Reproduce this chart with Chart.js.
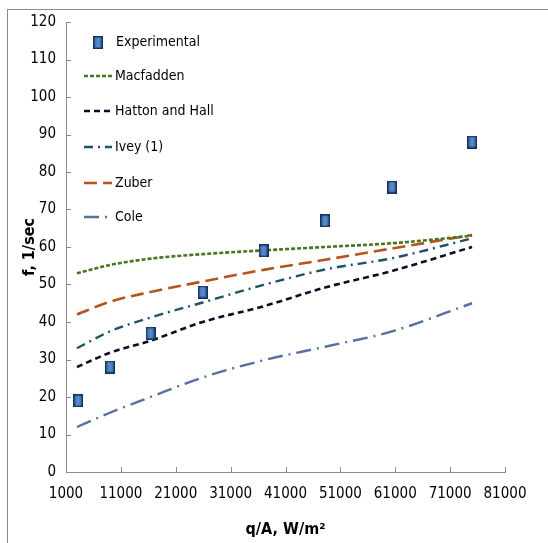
<!DOCTYPE html>
<html>
<head>
<meta charset="utf-8">
<script src="https://cdn.jsdelivr.net/npm/chart.js@4.4.1/dist/chart.umd.min.js"></script>
<style>
    html, body { margin: 0; padding: 0; background: #fff; }
    #wrap { position: relative; width: 548px; height: 543px; overflow: hidden; }
    #frame { position: absolute; left: 7px; top: 9px; width: 600px; height: 600px;
             border-left: 1px solid #8c8c8c; border-top: 1px solid #8c8c8c; }
    canvas { position: absolute; left: 0; top: 0; }
</style>
</head>
<body>
<div id="wrap">
    <div id="frame"></div>
    <canvas id="chart" width="548" height="543"></canvas>
</div>
<script>
// Data
const qA = [3200, 9000, 16400, 25900, 37000, 48200, 60400, 75000];
const experimental = [19, 28, 37, 48, 59, 67, 76, 88];

const modelX = [3000, 9000, 16400, 25900, 37000, 48200, 60400, 75000];
const macfadden = [53, 55.2, 56.9, 58.1, 59.1, 60, 61, 63];
const hattonHall = [28, 31.8, 35, 40, 44.2, 49.2, 53.6, 60];
const ivey = [33, 37.5, 41.2, 45.2, 49.9, 54, 57, 62.3];
const zuber = [42, 45.4, 48, 50.8, 53.9, 56.6, 59.6, 63.2];
const cole = [12, 15.8, 20, 25.2, 29.8, 33.4, 37.5, 45];

const xTicks = [1000, 11000, 21000, 31000, 41000, 51000, 61000, 71000, 81000];

const FONT = "'Liberation Sans Narrow', 'DejaVu Sans Condensed', sans-serif";

function pairs(xs, ys) {
    return xs.map((x, i) => ({ x: x, y: ys[i] }));
}

// tall blue rectangle marker like the Excel one
function makeMarker() {
    const c = document.createElement('canvas');
    c.width = 10; c.height = 13;
    const g = c.getContext('2d');
    const grad = g.createLinearGradient(0, 0, 10, 0);
    grad.addColorStop(0, '#2f5f9e');
    grad.addColorStop(0.5, '#5b8fd0');
    grad.addColorStop(1, '#2f5f9e');
    g.fillStyle = '#17305c';
    g.fillRect(0, 0, 10, 13);
    g.fillStyle = grad;
    g.fillRect(1.5, 1.5, 7, 10);
    return c;
}
const marker = makeMarker();

function lineSet(label, ys, color, dash, width) {
    return {
        label: label,
        data: pairs(modelX, ys),
        showLine: true,
        borderColor: color,
        backgroundColor: color,
        borderWidth: width,
        borderDash: dash,
        pointRadius: 0,
        cubicInterpolationMode: 'monotone',
        order: 2
    };
}

// legend drawn inside the plot area, top-left
const innerLegend = {
    id: 'innerLegend',
    afterDraw(chart) {
        const ctx = chart.ctx;
        const area = chart.chartArea;
        const rows = [42, 76, 111, 147, 183, 217];
        ctx.save();
        ctx.font = '14px ' + FONT;
        ctx.textBaseline = 'middle';
        ctx.fillStyle = '#000';
        chart.data.datasets.forEach((ds, i) => {
            const y = rows[i];
            const x0 = area.left + 18;
            if (ds.pointStyle === marker) {
                ctx.drawImage(marker, x0 + 9, y - 6);
                ctx.fillText(ds.label, area.left + 50, y);
            } else {
                ctx.strokeStyle = ds.borderColor;
                ctx.lineWidth = ds.borderWidth;
                ctx.setLineDash(ds.borderDash);
                ctx.beginPath();
                ctx.moveTo(x0, y);
                ctx.lineTo(x0 + 28, y);
                ctx.stroke();
                ctx.setLineDash([]);
                ctx.fillText(ds.label, area.left + 49, y);
            }
        });
        ctx.restore();
    }
};

// tick marks pointing into the plot, as in the original
const innerTicks = {
    id: 'innerTicks',
    afterDatasetsDraw(chart) {
        const ctx = chart.ctx;
        const area = chart.chartArea;
        const xs = chart.scales.x, ys = chart.scales.y;
        ctx.save();
        ctx.strokeStyle = '#8c8c8c';
        ctx.lineWidth = 1;
        ctx.beginPath();
        ys.ticks.forEach(t => {
            const p = Math.round(ys.getPixelForValue(t.value)) + 0.5;
            ctx.moveTo(area.left, p);
            ctx.lineTo(area.left + 5, p);
        });
        xs.ticks.forEach(t => {
            const p = Math.round(xs.getPixelForValue(t.value)) + 0.5;
            ctx.moveTo(p, area.bottom);
            ctx.lineTo(p, area.bottom - 5);
        });
        ctx.stroke();
        ctx.restore();
    }
};

const ctx = document.getElementById('chart').getContext('2d');
new Chart(ctx, {
    type: 'scatter',
    data: {
        datasets: [
            {
                label: 'Experimental',
                data: pairs(qA, experimental),
                pointStyle: marker,
                pointRadius: 6,
                order: 1
            },
            lineSet('Macfadden', macfadden, '#4a7320', [4, 2], 2.6),
            lineSet('Hatton and Hall', hattonHall, '#0b0b24', [6, 4], 2.6),
            lineSet('Ivey (1)', ivey, '#1d5368', [9, 5, 2, 5], 2.4),
            lineSet('Zuber', zuber, '#b5541c', [13, 6], 2.6),
            lineSet('Cole', cole, '#5670a0', [15, 6, 2, 6], 2.4)
        ]
    },
    plugins: [innerLegend, innerTicks],
    options: {
        responsive: false,
        animation: false,
        layout: { padding: { top: 22, right: 43, bottom: 4, left: 0 } },
        plugins: {
            legend: { display: false },
            tooltip: { enabled: false }
        },
        scales: {
            x: {
                type: 'linear',
                min: 1000,
                max: 81000,
                afterBuildTicks(scale) {
                    scale.ticks = xTicks.map(v => ({ value: v }));
                },
                afterFit(scale) { scale.height = 67; },
                grid: { display: false, drawTicks: false },
                border: { display: true, color: '#8c8c8c', width: 1 },
                ticks: {
                    color: '#000',
                    padding: 13,
                    maxRotation: 0,
                    autoSkip: false,
                    font: { family: FONT, size: 15 },
                    callback: v => String(v)
                },
                title: {
                    display: true,
                    text: 'q/A, W/m\u00B2',
                    color: '#000',
                    padding: { top: 10, bottom: 0 },
                    font: { family: FONT, size: 16, weight: 'bold' }
                }
            },
            y: {
                min: 0,
                max: 120,
                afterFit(scale) { scale.width = 66; },
                grid: { display: false, drawTicks: false },
                border: { display: true, color: '#8c8c8c', width: 1 },
                ticks: {
                    stepSize: 10,
                    color: '#000',
                    padding: 10,
                    font: { family: FONT, size: 15 }
                },
                title: {
                    display: true,
                    text: 'f, 1/sec',
                    color: '#000',
                    padding: { top: 20, bottom: 0 },
                    font: { family: FONT, size: 16, weight: 'bold' }
                }
            }
        }
    }
});
</script>
</body>
</html>
